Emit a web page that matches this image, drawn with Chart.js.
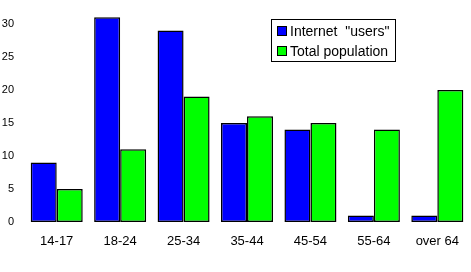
<!DOCTYPE html>
<html>
<head>
<meta charset="utf-8">
<script src="https://cdn.jsdelivr.net/npm/chart.js@4"></script>
<style>
  html, body { margin: 0; padding: 0; background: #fff; }
  #wrap { width: 471px; height: 272px; position: relative; }
</style>
</head>
<body>
<div id="wrap"><canvas id="ageChart"></canvas></div>
<script>
const ageGroups = ['14-17', '18-24', '25-34', '35-44', '45-54', '55-64', 'over 64'];
const internetUsers = [9, 31, 29, 15, 14, 1, 1];
const totalPopulation = [5, 11, 19, 16, 15, 14, 20];
const seriesNames = ['Internet  "users"', 'Total population'];

// legend drawn as a boxed panel inside the plot, like the original
const boxLegend = {
  id: 'boxLegend',
  afterDraw(chart) {
    const ctx = chart.ctx;
    const x = 271.5, y = 19.5, w = 124, h = 42;
    ctx.save();
    ctx.fillStyle = '#fff';
    ctx.fillRect(x, y, w, h);
    ctx.strokeStyle = '#000';
    ctx.lineWidth = 1;
    ctx.strokeRect(x, y, w, h);
    ctx.font = '14px "Liberation Sans", Arial, sans-serif';
    ctx.textBaseline = 'middle';
    chart.data.datasets.forEach((ds, i) => {
      const cy = 31 + i * 20;
      ctx.fillStyle = ds.backgroundColor;
      ctx.fillRect(277.5, cy - 4.5, 9, 9);
      ctx.strokeRect(277.5, cy - 4.5, 9, 9);
      ctx.fillStyle = '#000';
      ctx.fillText(ds.label, 290, cy + 1);
    });
    ctx.restore();
  }
};

const ctx = document.getElementById('ageChart').getContext('2d');
new Chart(ctx, {
  type: 'bar',
  data: {
    labels: ageGroups,
    datasets: [
      {
        label: seriesNames[0],
        data: internetUsers,
        backgroundColor: '#0000ff',
        borderColor: '#000',
        borderWidth: 1.5,
        borderSkipped: false,
      },
      {
        label: seriesNames[1],
        data: totalPopulation,
        backgroundColor: '#00ff00',
        borderColor: '#000',
        borderWidth: 1.5,
        borderSkipped: false,
      },
    ],
  },
  options: {
    responsive: true,
    maintainAspectRatio: false,
    animation: false,
    categoryPercentage: 0.82,
    barPercentage: 1,
    layout: { padding: { top: 4, right: 0, bottom: 0, left: 0 } },
    plugins: {
      legend: { display: false },
      tooltip: { enabled: false },
    },
    scales: {
      x: {
        grid: { display: false, drawTicks: false },
        border: { display: false },
        ticks: {
          color: '#000',
          padding: 12,
          maxRotation: 0,
          font: { family: '"Liberation Sans", Arial, sans-serif', size: 13 },
        },
        afterFit(scale) { scale.height = 50; },
      },
      y: {
        min: 0,
        max: 33,
        grid: { display: false, drawTicks: false },
        border: { display: false },
        ticks: {
          stepSize: 5,
          color: '#000',
          padding: 11,
          font: { family: '"Liberation Sans", Arial, sans-serif', size: 11 },
          callback: v => (v % 5 === 0 ? v : ''),
        },
        afterFit(scale) {
          scale.width = 25;
          scale.paddingTop = 0;
          scale.paddingBottom = 0;
        },
      },
    },
  },
  plugins: [boxLegend],
});
</script>
</body>
</html>
